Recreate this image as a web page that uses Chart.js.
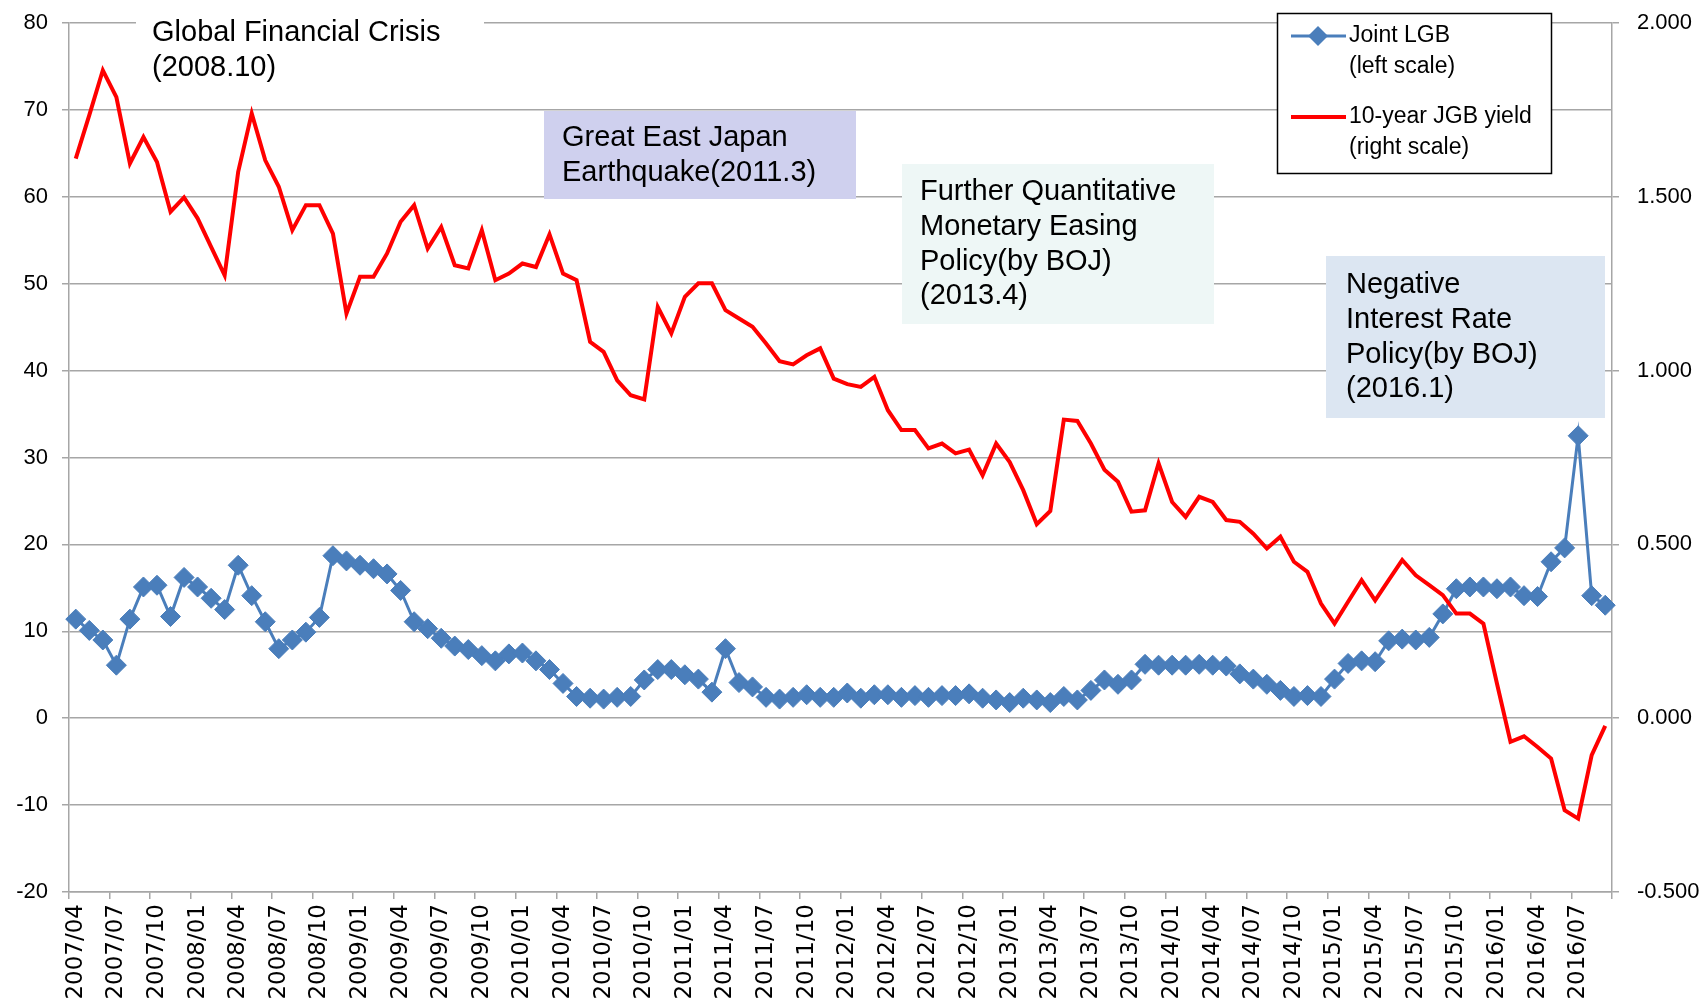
<!DOCTYPE html>
<html>
<head>
<meta charset="utf-8">
<title>Joint LGB and 10-year JGB yield</title>
<script src="https://cdn.jsdelivr.net/npm/chart.js@4.4.1/dist/chart.umd.min.js"></script>
<style>
  html, body { margin: 0; padding: 0; background: #fff; }
  #wrap { width: 1706px; height: 1001px; }
</style>
</head>
<body>
<div id="wrap"><canvas id="chart" width="1706" height="1001"></canvas></div>
<script>
// monthly categories, 2007/04 - 2016/09
const months = [
  '2007/04','2007/05','2007/06','2007/07','2007/08','2007/09','2007/10','2007/11','2007/12',
  '2008/01','2008/02','2008/03','2008/04','2008/05','2008/06','2008/07','2008/08','2008/09','2008/10','2008/11','2008/12',
  '2009/01','2009/02','2009/03','2009/04','2009/05','2009/06','2009/07','2009/08','2009/09','2009/10','2009/11','2009/12',
  '2010/01','2010/02','2010/03','2010/04','2010/05','2010/06','2010/07','2010/08','2010/09','2010/10','2010/11','2010/12',
  '2011/01','2011/02','2011/03','2011/04','2011/05','2011/06','2011/07','2011/08','2011/09','2011/10','2011/11','2011/12',
  '2012/01','2012/02','2012/03','2012/04','2012/05','2012/06','2012/07','2012/08','2012/09','2012/10','2012/11','2012/12',
  '2013/01','2013/02','2013/03','2013/04','2013/05','2013/06','2013/07','2013/08','2013/09','2013/10','2013/11','2013/12',
  '2014/01','2014/02','2014/03','2014/04','2014/05','2014/06','2014/07','2014/08','2014/09','2014/10','2014/11','2014/12',
  '2015/01','2015/02','2015/03','2015/04','2015/05','2015/06','2015/07','2015/08','2015/09','2015/10','2015/11','2015/12',
  '2016/01','2016/02','2016/03','2016/04','2016/05','2016/06','2016/07','2016/08','2016/09'
];

// Joint LGB (left scale)
const jointLgb = [
  11.4, 10.1, 9.0, 6.1, 11.4, 15.1, 15.3, 11.7, 16.2,
  15.1, 13.8, 12.5, 17.6, 14.1, 11.1, 8.0, 9.0, 9.9, 11.6, 18.7, 18.1,
  17.6, 17.2, 16.6, 14.7, 11.1, 10.3, 9.2, 8.3, 7.9, 7.2, 6.6, 7.4,
  7.5, 6.6, 5.6, 4.0, 2.5, 2.3, 2.2, 2.4, 2.5, 4.4, 5.6, 5.6,
  5.0, 4.5, 3.0, 8.0, 4.1, 3.6, 2.4, 2.2, 2.4, 2.7, 2.4, 2.4,
  2.9, 2.3, 2.7, 2.7, 2.4, 2.6, 2.4, 2.6, 2.6, 2.8, 2.3, 2.1,
  1.8, 2.3, 2.1, 1.8, 2.5, 2.1, 3.2, 4.4, 3.9, 4.4, 6.2, 6.1,
  6.1, 6.1, 6.2, 6.1, 6.0, 5.1, 4.5, 3.9, 3.2, 2.5, 2.6, 2.5,
  4.5, 6.3, 6.6, 6.5, 8.9, 9.1, 9.0, 9.3, 12.0, 14.9, 15.1, 15.1,
  14.9, 15.1, 14.1, 14.0, 18.0, 19.6, 32.5, 14.1, 13.0
];

// 10-year JGB yield (right scale)
const jgbYield = [
  1.610, 1.735, 1.864, 1.787, 1.596, 1.672, 1.600, 1.457, 1.498,
  1.438, 1.356, 1.274, 1.572, 1.740, 1.605, 1.529, 1.404, 1.476, 1.476, 1.394, 1.164,
  1.270, 1.270, 1.337, 1.428, 1.476, 1.351, 1.413, 1.303, 1.294, 1.404, 1.260, 1.279,
  1.308, 1.298, 1.392, 1.279, 1.260, 1.083, 1.054, 0.972, 0.929, 0.917, 1.183, 1.107,
  1.212, 1.251, 1.251, 1.174, 1.150, 1.126, 1.078, 1.027, 1.018, 1.044, 1.064, 0.977,
  0.961, 0.953, 0.982, 0.886, 0.829, 0.829, 0.776, 0.790, 0.762, 0.773, 0.699, 0.790,
  0.737, 0.656, 0.558, 0.596, 0.859, 0.855, 0.790, 0.715, 0.680, 0.594, 0.598, 0.733,
  0.622, 0.579, 0.637, 0.622, 0.570, 0.565, 0.531, 0.488, 0.522, 0.450, 0.421, 0.330,
  0.272, 0.335, 0.397, 0.339, 0.397, 0.455, 0.411, 0.383, 0.354, 0.301, 0.301, 0.272,
  0.100, -0.068, -0.052, -0.083, -0.116, -0.265, -0.289, -0.106, -0.022
];

const leftTicks = [-20, -10, 0, 10, 20, 30, 40, 50, 60, 70, 80];
const rightTicks = [-0.5, 0, 0.5, 1.0, 1.5, 2.0];

const seriesNames = [['Joint LGB', '(left scale)'], ['10-year JGB yield', '(right scale)']];
const notes = [
  ['Global Financial Crisis', '(2008.10)'],
  ['Great East Japan', 'Earthquake(2011.3)'],
  ['Further Quantitative', 'Monetary Easing', 'Policy(by BOJ)', '(2013.4)'],
  ['Negative', 'Interest Rate', 'Policy(by BOJ)', '(2016.1)']
];

const BLUE = '#4A7EBB';
const RED = '#FF0000';
const GRID = '#A6A6A6';
const TEXT_FONT = '"Liberation Sans", Arial, sans-serif';

// text boxes drawn over the plot, like the Excel callouts
const noteBoxes = [
  { x: 136, y: 0, w: 348, h: 86, fill: '#FFFFFF', tx: 152, ty: 33 },
  { x: 544, y: 111, w: 312, h: 88, fill: '#CFD0EE', tx: 562, ty: 138 },
  { x: 902, y: 164, w: 312, h: 160, fill: '#EEF7F6', tx: 920, ty: 192 },
  { x: 1326, y: 256, w: 279, h: 162, fill: '#DCE6F2', tx: 1346, ty: 285 }
];

const overlayPlugin = {
  id: 'overlay',
  afterDraw(chart) {
    const ctx = chart.ctx;
    ctx.save();
    ctx.textBaseline = 'middle';
    ctx.textAlign = 'left';

    noteBoxes.forEach((b, i) => {
      ctx.fillStyle = b.fill;
      ctx.fillRect(b.x, b.y, b.w, b.h);
      ctx.fillStyle = '#000';
      ctx.font = '29px ' + TEXT_FONT;
      notes[i].forEach((line, k) => ctx.fillText(line, b.tx, b.ty + k * 34.8));
    });

    // legend
    const lx = 1277, ly = 13, lw = 274, lh = 160;
    ctx.fillStyle = '#fff';
    ctx.fillRect(lx, ly, lw, lh);
    ctx.strokeStyle = '#000';
    ctx.lineWidth = 1.5;
    ctx.strokeRect(lx + 0.5, ly + 0.5, lw, lh);

    const rows = [36, 117];
    const ds = chart.data.datasets;
    [1, 0].forEach((dsIndex, r) => {
      const d = ds[dsIndex];
      const y = rows[r];
      ctx.strokeStyle = d.borderColor;
      ctx.lineWidth = d.borderWidth;
      ctx.beginPath();
      ctx.moveTo(1291, y);
      ctx.lineTo(1346, y);
      ctx.stroke();
      if (d.pointRadius > 0) {
        const r0 = d.pointRadius;
        ctx.fillStyle = d.pointBackgroundColor;
        ctx.beginPath();
        ctx.moveTo(1318, y - r0);
        ctx.lineTo(1318 + r0, y);
        ctx.lineTo(1318, y + r0);
        ctx.lineTo(1318 - r0, y);
        ctx.closePath();
        ctx.fill();
      }
      ctx.fillStyle = '#000';
      ctx.font = '23px ' + TEXT_FONT;
      seriesNames[r].forEach((line, k) => ctx.fillText(line, 1349, y + k * 31));
    });
    ctx.restore();
  }
};

// tick label overflow should not push the plot area in
const noLabelPadding = s => { s.paddingTop = 0; s.paddingBottom = 0; };

new Chart(document.getElementById('chart'), {
  type: 'line',
  data: {
    labels: months,
    datasets: [
      {
        label: '10-year JGB yield (right scale)',
        data: jgbYield,
        yAxisID: 'y1',
        borderColor: RED,
        backgroundColor: RED,
        borderWidth: 4,
        pointRadius: 0,
        tension: 0,
        order: 0
      },
      {
        label: 'Joint LGB (left scale)',
        data: jointLgb,
        yAxisID: 'y',
        borderColor: BLUE,
        backgroundColor: BLUE,
        borderWidth: 3,
        pointStyle: 'rectRot',
        pointRadius: 10,
        pointBackgroundColor: BLUE,
        pointBorderColor: BLUE,
        pointBorderWidth: 1,
        tension: 0,
        order: 1
      }
    ]
  },
  options: {
    responsive: false,
    animation: false,
    devicePixelRatio: 1,
    layout: { padding: { top: 23, left: 0, right: 0, bottom: 0 } },
    plugins: {
      legend: { display: false },
      tooltip: { enabled: false }
    },
    scales: {
      x: {
        offset: true,
        grid: {
          offset: true,
          drawOnChartArea: false,
          tickLength: 7,
          lineWidth: 1.5,
          tickColor: c => (c.index === undefined || c.index % 3 === 0) ? GRID : 'rgba(0,0,0,0)'
        },
        border: { display: true, color: GRID, width: 1.5 },
        ticks: {
          autoSkip: false,
          minRotation: 90,
          maxRotation: 90,
          padding: 5,
          color: '#000',
          font: { family: '"DejaVu Sans", sans-serif', size: 23 },
          callback: (v, i) => i % 3 === 0 ? months[i] : ''
        },
        afterFit: s => { s.height = 109; }
      },
      y: {
        position: 'left',
        min: -20,
        max: 80,
        afterBuildTicks: s => { s.ticks = leftTicks.map(v => ({ value: v })); },
        grid: { color: GRID, lineWidth: 1.5, tickLength: 7 },
        border: { display: true, color: GRID, width: 1.5 },
        ticks: {
          padding: 14,
          color: '#000',
          font: { family: TEXT_FONT, size: 22 }
        },
        afterFit: s => { s.width = 69; noLabelPadding(s); }
      },
      y1: {
        position: 'right',
        min: -0.5,
        max: 2.0,
        afterBuildTicks: s => { s.ticks = rightTicks.map(v => ({ value: v })); },
        grid: { drawOnChartArea: false, color: GRID, lineWidth: 1.5, tickLength: 7 },
        border: { display: true, color: GRID, width: 1.5 },
        ticks: {
          padding: 18,
          color: '#000',
          font: { family: TEXT_FONT, size: 22 },
          callback: v => v.toFixed(3)
        },
        afterFit: s => { s.width = 94; noLabelPadding(s); }
      }
    }
  },
  plugins: [overlayPlugin]
});
</script>
</body>
</html>
